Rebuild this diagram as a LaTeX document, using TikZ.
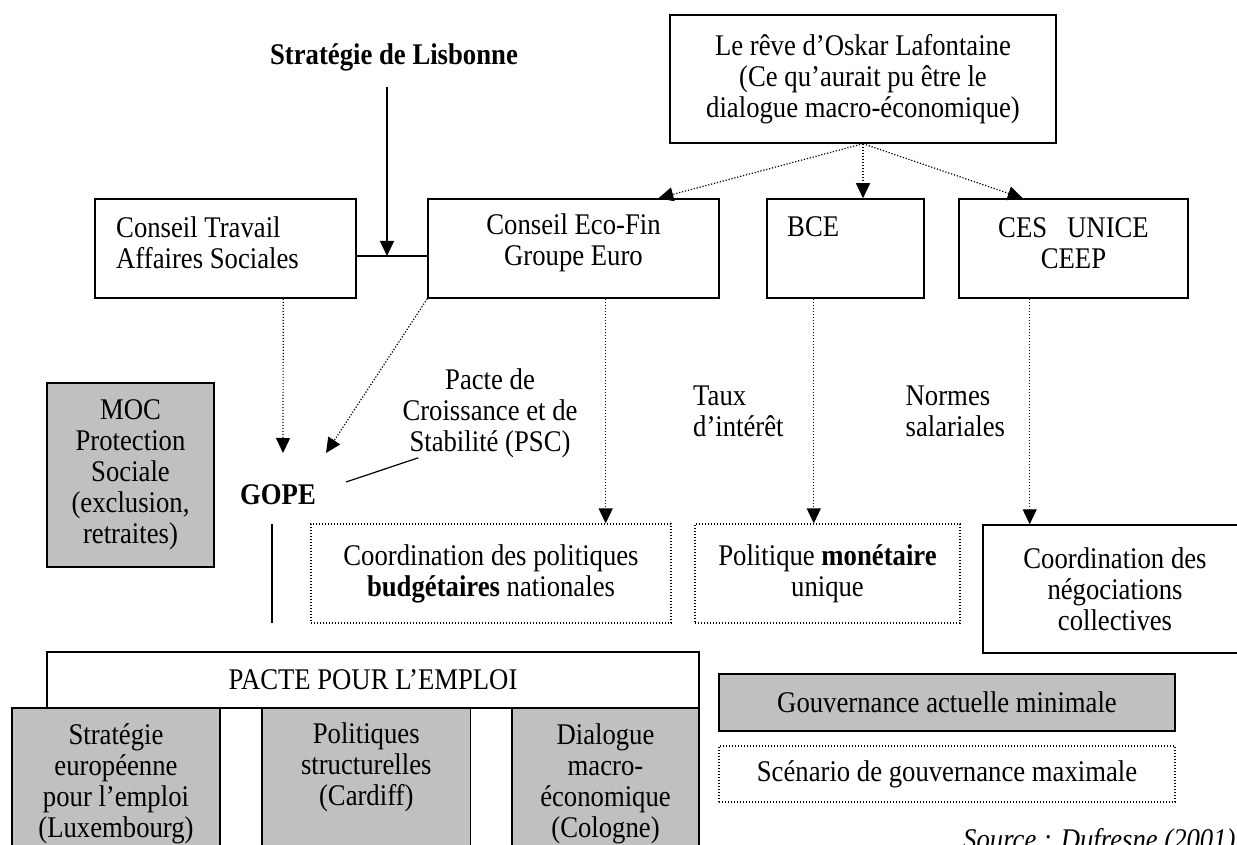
\documentclass[tikz,border=0pt]{standalone}
\usepackage{fontspec}
\setmainfont{Liberation Serif}[FakeStretch=0.89]
\usetikzlibrary{arrows.meta,calc}

\definecolor{gris}{RGB}{192,192,192}
\newcommand{\taille}{\fontsize{30}{31}\selectfont}

\tikzset{
    boite/.style={draw, line width=1.5pt, inner sep=0pt, align=center},
    boitegrise/.style={boite, fill=gris},
    boitepointillee/.style={draw, line width=1.2pt, dash pattern=on 1.2pt off 1.8pt, inner sep=0pt, align=center},
    texte/.style={inner sep=0pt, align=center},
    fleche/.style={-{Triangle[width=14pt,length=15pt]}, line width=1.5pt},
    flechepointillee/.style={fleche, line width=1.2pt, dash pattern=on 1.2pt off 1.8pt}
}

\begin{document}
\begin{tikzpicture}[x=1pt, y=-1pt, font=\taille]
    \useasboundingbox (0,0) rectangle (1237,845);

        % Top: Lisbonne and Oskar Lafontaine
        \node[texte, font=\taille\bfseries] (lisbonne) at (394,57) {Stratégie de Lisbonne};
        \node[boite, minimum width=386pt, minimum height=128pt] (oskar) at (863,79) {Le rêve d’Oskar Lafontaine\\(Ce qu’aurait pu être le\\dialogue macro-économique)};

        % Row of councils and actors (text sits at the top of the boxes)
        \node[boite, minimum width=261pt, minimum height=99pt] (travail) at (225.5,248.5) {};
        \node[boite, minimum width=291pt, minimum height=99pt] (ecofin) at (573.5,248.5) {};
        \node[boite, minimum width=157pt, minimum height=99pt] (bce) at (845.5,248.5) {};
        \node[boite, minimum width=229pt, minimum height=99pt] (ces) at (1073.5,248.5) {};
        \node[texte, align=left, anchor=west] (travailtexte) at (116,243) {Conseil Travail\\Affaires Sociales};
        \node[texte] (ecofintexte) at (573.5,243) {Conseil Eco-Fin\\Groupe Euro};
        \node[texte, anchor=west] (bcetexte) at (787,227) {BCE};
        \node[texte] (cestexte) at (1073.5,243) {CES~~~UNICE\\CEEP};

        % Lisbonne arrow onto the link between the two councils
        \coordinate (jonction) at (387,256);
        \draw[line width=1.5pt] (travail.east |- jonction) -- (ecofin.west |- jonction);
        \draw[fleche, shorten <=16pt] (lisbonne.south -| jonction) -- (jonction);

        % Dotted arrows from the dream
        \draw[flechepointillee] (oskar.south) -- ($(ecofin.north west)!0.79!(ecofin.north east)$);
        \draw[flechepointillee] (oskar.south) -- (bce.north -| oskar.south);
        \draw[flechepointillee] (oskar.south) -- ($(ces.north west)!0.28!(ces.north east)$);

        % GOPE and PSC
        \node[texte, font=\taille\bfseries] (gope) at (278,495) {GOPE};
        \node[texte] (psc) at (490,413) {Pacte de\\Croissance et de\\Stabilité (PSC)};
        \coordinate (versgope1) at (283,453);
        \coordinate (versgope2) at (326,453);
        \coordinate (pscpied) at (346,482);
        \coordinate (gopebas1) at (272,524);
        \coordinate (gopebas2) at (272,623);
        \draw[flechepointillee] ($(travail.south west)!0.72!(travail.south east)$) -- (versgope1);
        \draw[flechepointillee] (ecofin.south west) -- (versgope2);
        \draw[line width=1.2pt] (pscpied) -- ([xshift=16pt]psc.south west);
        \draw[line width=1.2pt] (gopebas1) -- (gopebas2);

        % MOC (grey)
        \node[boitegrise, minimum width=167pt, minimum height=184pt] (moc) at (130.5,475) {MOC\\Protection\\Sociale\\(exclusion,\\retraites)};

        % Policy boxes
        \node[boitepointillee, minimum width=360pt, minimum height=99pt] (budget) at (491,573.5) {Coordination des politiques\\\textbf{budgétaires} nationales};
        \node[boitepointillee, minimum width=265pt, minimum height=99pt] (monetaire) at (827.5,573.5) {Politique \textbf{monétaire}\\unique};
        \node[boite, minimum width=264pt, minimum height=128pt] (negociations) at (1115,589) {Coordination des\\négociations\\collectives};

        \node[texte, align=left, anchor=west] (taux) at (693,411) {Taux\\d’intérêt};
        \node[texte, align=left, anchor=west] (normes) at (905.5,411) {Normes\\salariales};

        \path ($(ecofin.south west)!0.61!(ecofin.south east)$) coordinate (ecofinbas)
              ($(bce.south west)!0.3!(bce.south east)$) coordinate (bcebas)
              ($(ces.south west)!0.31!(ces.south east)$) coordinate (cesbas);
        \draw[flechepointillee] (ecofinbas) -- (ecofinbas |- budget.north);
        \draw[flechepointillee] (bcebas) -- (bcebas |- monetaire.north);
        \draw[flechepointillee] (cesbas) -- (cesbas |- negociations.north);

        % Pacte pour l'emploi and its three processes
        \node[boite, minimum width=652pt, minimum height=56pt] (pacte) at (373,680) {PACTE POUR L’EMPLOI};
        \node[boitegrise, minimum width=208pt, minimum height=161pt] (luxembourg) at (116,788.5) {};
        \node[boitegrise, minimum width=208.5pt, minimum height=161pt] (cardiff) at (366.25,788.5) {};
        \node[boitegrise, minimum width=187pt, minimum height=161pt] (cologne) at (605.5,788.5) {};
        \node[texte] (luxtexte) at (116,784) {Stratégie\\européenne\\pour l’emploi\\(Luxembourg)};
        \node[texte] (cardifftexte) at (366.25,767) {Politiques\\structurelles\\(Cardiff)};
        \node[texte] (colognetexte) at (605.5,784) {Dialogue\\macro-\\économique\\(Cologne)};

        % Legend
        \node[boitegrise, minimum width=456pt, minimum height=57pt] (actuelle) at (947,702.5) {Gouvernance actuelle minimale};
        \node[boitepointillee, minimum width=456pt, minimum height=56pt] (maximale) at (947,774) {Scénario de gouvernance maximale};

        \node[texte, anchor=base west, font=\taille\itshape] (source) at (963,849) {Source : Dufresne (2001)};
\end{tikzpicture}
\end{document}
